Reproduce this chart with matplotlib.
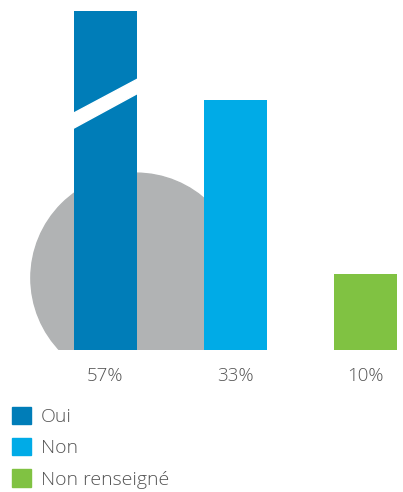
import matplotlib.pyplot as plt
from matplotlib.patches import Ellipse, Polygon, Patch

plt.rcParams['font.family'] = ['Open Sans', 'DejaVu Sans']

categories = ['Oui', 'Non', 'Non renseigné']
values = [57, 33, 10]
labels = ['57%', '33%', '10%']
colors = ['#007db8', '#00abe7', '#80c242']

W, H = 403, 492
fig = plt.figure(figsize=(W / 100, H / 100), dpi=100)
# axes: baseline at 350 px from top, top edge at 11 px
ax = fig.add_axes([0, (H - 350) / H, 1, (350 - 11) / H])
ax.set_xlim(-0.81, 2.29)
ax.set_ylim(0, 44.75)
ax.axis('off')

# grey disc behind the first two bars
ax.add_patch(Ellipse((0.235, 9.5), 1.615, 27.7, color='#b1b3b4', zorder=1))

x = range(len(values))
bw = 0.485
ax.bar(x, values, width=bw, color=colors, zorder=2)

# slanted break on the truncated bar
hw = bw / 2 + 0.02
ax.add_patch(Polygon([(-hw, 29.1), (hw, 34.0), (hw, 35.9), (-hw, 31.1)],
                     closed=True, color='white', zorder=3))

for xi, lab in zip(x, labels):
    ax.text(xi, -0.077, lab, transform=ax.get_xaxis_transform(),
            ha='center', va='center', fontsize=13.5, color='#555555',
            fontweight='light', clip_on=False)

handles = [Patch(color=c, label=n) for c, n in zip(colors, categories)]
leg = fig.legend(handles=handles, loc='upper left',
                 bbox_to_anchor=(4 / W, 1 - 399 / H), frameon=False,
                 fontsize=14, handlelength=0.98, handleheight=0.98,
                 handletextpad=0.5, labelspacing=0.62, borderaxespad=0)
for t in leg.get_texts():
    t.set_color('#555555')
    t.set_fontweight('light')

fig.savefig('out.png', dpi=100)
